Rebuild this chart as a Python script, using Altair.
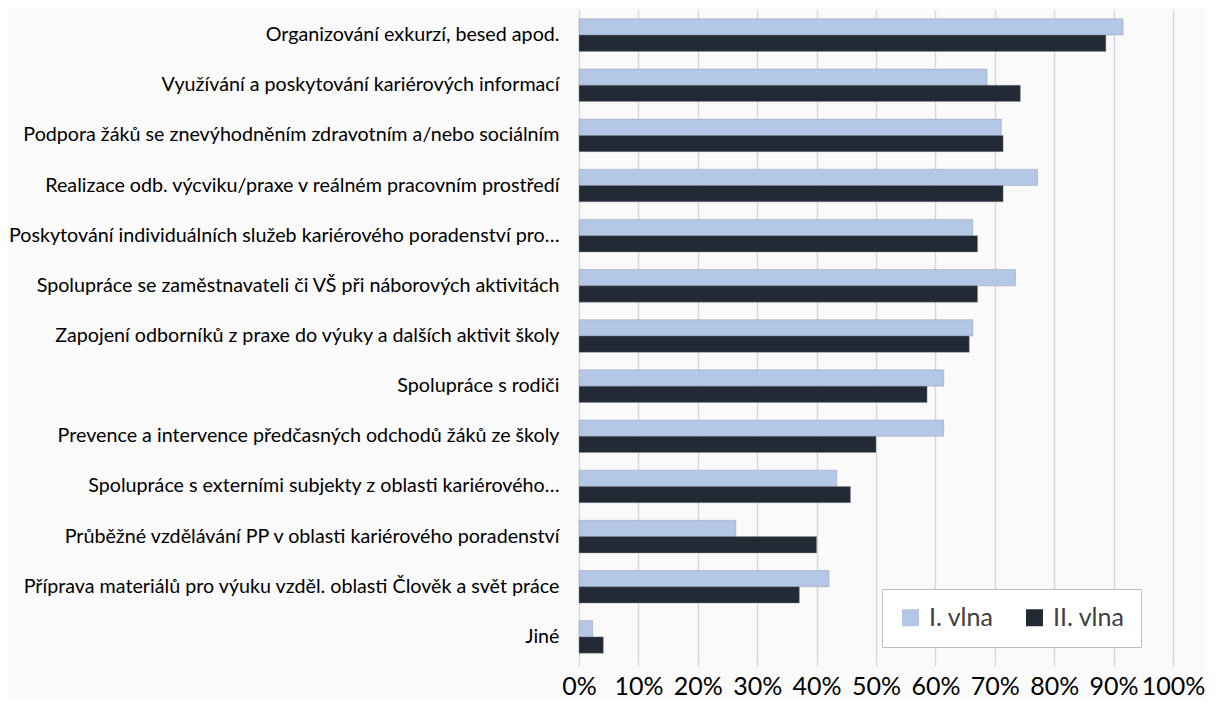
import altair as alt
import pandas as pd

categories = [
    "Organizování exkurzí, besed apod.",
    "Využívání a poskytování kariérových informací",
    "Podpora žáků se znevýhodněním zdravotním a/nebo sociálním",
    "Realizace odb. výcviku/praxe v reálném pracovním prostředí",
    "Poskytování individuálních služeb kariérového poradenství pro…",
    "Spolupráce se zaměstnavateli či VŠ při náborových aktivitách",
    "Zapojení odborníků z praxe do výuky a dalších aktivit školy",
    "Spolupráce s rodiči",
    "Prevence a intervence předčasných odchodů žáků ze školy",
    "Spolupráce s externími subjekty z oblasti kariérového…",
    "Průběžné vzdělávání PP v oblasti kariérového poradenství",
    "Příprava materiálů pro výuku vzděl. oblasti Člověk a svět práce",
    "Jiné",
]
wave1 = [0.916, 0.687, 0.711, 0.772, 0.663, 0.735, 0.663, 0.614, 0.614, 0.434, 0.264, 0.421, 0.023]
wave2 = [0.887, 0.743, 0.714, 0.714, 0.671, 0.671, 0.657, 0.586, 0.500, 0.457, 0.400, 0.371, 0.041]
series = ["I. vlna", "II. vlna"]
colors = ["#b4c7e7", "#222a35"]
x_ticks = [0, 0.1, 0.2, 0.3, 0.4, 0.5, 0.6, 0.7, 0.8, 0.9, 1.0]

rows = []
for c, a, b in zip(categories, wave1, wave2):
    rows.append({"cat": c, "vlna": series[0], "val": a})
    rows.append({"cat": c, "vlna": series[1], "val": b})
df = pd.DataFrame(rows)

FONT = "Lato"

chart = (
    alt.Chart(df)
    .mark_bar(stroke="#8a9099", strokeWidth=0.4)
    .encode(
        x=alt.X(
            "val:Q",
            scale=alt.Scale(domain=[0, 1], nice=False),
            axis=alt.Axis(
                values=x_ticks,
                format=".0%",
                title=None,
                domain=False,
                ticks=True,
                tickSize=4,
                tickColor="#d9d9d9",
                tickWidth=1.5,
                grid=True,
                gridColor="#d9d9d9",
                gridWidth=1.5,
                labelFont=FONT,
                labelFontSize=25,
                labelColor="#000000",
                labelPadding=8,
                labelOverlap=False,
                labelFlush=False,
            ),
        ),
        y=alt.Y(
            "cat:N",
            sort=categories,
            scale=alt.Scale(paddingInner=0.35, paddingOuter=0.175),
            axis=alt.Axis(
                title=None,
                domain=False,
                ticks=False,
                labelFont=FONT,
                labelFontSize=19.7,
                labelColor="#000000",
                labelPadding=20,
                labelLimit=700,
            ),
        ),
        yOffset=alt.YOffset("vlna:N", sort=series, scale=alt.Scale(paddingInner=0, paddingOuter=0)),
        color=alt.Color(
            "vlna:N",
            sort=series,
            scale=alt.Scale(domain=series, range=colors),
            legend=alt.Legend(
                title=None,
                orient="none",
                legendX=303,
                legendY=579,
                direction="horizontal",
                columns=2,
                columnPadding=28,
                symbolType="square",
                symbolSize=289,
                symbolStrokeWidth=0,
                labelFont=FONT,
                labelFontSize=25,
                labelColor="#404040",
                labelOffset=6,
                fillColor="#ffffff",
                strokeColor="#bfbfbf",
                padding=16,
            ),
        ),
    )
    .properties(
        width=594,
        height=652,
        background="#fafafa",
        padding={"left": 0, "top": 2, "right": 0, "bottom": 0},
    )
    .configure_view(stroke=None)
)

chart.save("out.html", embed_options={"renderer": "svg", "actions": False})
